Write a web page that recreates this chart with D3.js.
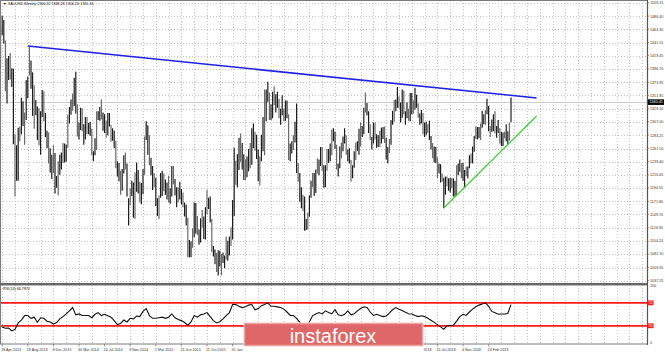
<!DOCTYPE html>
<html lang="en">
<head>
<meta charset="UTF-8">
<title>XAUUSD Weekly</title>
<script src="https://d3js.org/d3.v7.min.js"></script>
<style>
    body { margin: 0; background: #fff; }
    svg { display: block; }
    text { font-family: "Liberation Sans", Arial, sans-serif; }
</style>
</head>
<body>
<svg width="665" height="354"></svg>
<script>
// weekly bars, first bar = week of 14 Apr 2013, last = week of 2 Jun 2019
const firstWeek = "2013-04-14";
const weekHigh = [
  1480,1470,1487,1480,1445,1415,1419,1424,1398,1397,1286,1267,1297,1299,1348,1342,1323,1378,1384,1434,
  1411,1391,1369,1344,1333,1330,1325,1361,1359,1322,1292,1289,1262,1251,1267,1254,1215,1240,1251,1255,
  1271,1270,1268,1319,1332,1345,1355,1382,1392,1337,1306,1331,1330,1303,1315,1315,1305,1307,1295,1257,
  1279,1325,1325,1332,1345,1323,1320,1309,1322,1322,1302,1296,1292,1275,1240,1237,1224,1227,1250,1255,
  1236,1177,1194,1207,1204,1221,1238,1225,1205,1203,1227,1282,1308,1301,1284,1246,1232,1220,1212,1177,
  1182,1220,1224,1219,1209,1204,1215,1194,1232,1232,1210,1196,1196,1205,1193,1187,1170,1166,1144,1106,
  1104,1126,1170,1169,1147,1124,1143,1157,1146,1162,1191,1178,1180,1142,1096,1090,1084,1089,1088,1083,
  1085,1080,1112,1105,1112,1128,1174,1263,1241,1252,1280,1287,1271,1252,1243,1248,1261,1271,1296,1304,
  1290,1285,1260,1248,1285,1315,1362,1362,1375,1357,1337,1358,1367,1354,1358,1346,1329,1352,1329,1343,
  1343,1320,1270,1274,1284,1307,1338,1237,1220,1196,1183,1180,1142,1153,1182,1207,1220,1220,1226,1245,
  1243,1264,1264,1233,1233,1261,1261,1270,1294,1296,1290,1268,1236,1265,1272,1282,1296,1284,1260,1262,
  1242,1233,1257,1272,1274,1295,1306,1300,1331,1357,1339,1325,1303,1281,1306,1306,1286,1284,1292,1297,
  1298,1299,1280,1264,1278,1310,1326,1344,1345,1366,1350,1340,1362,1360,1325,1340,1329,1356,1356,1343,
  1365,1353,1338,1321,1327,1322,1306,1307,1303,1309,1283,1271,1265,1264,1247,1236,1235,1219,1212,1214,
  1214,1211,1212,1211,1211,1207,1233,1236,1243,1237,1237,1225,1231,1231,1250,1253,1265,1283,1299,1298,
  1298,1304,1326,1320,1327,1346,1334,1300,1311,1320,1325,1300,1310,1296,1290,1289,1290,1303,1291,1306,
  1348.26
];
const weekLow = [
  1321,1400,1454,1440,1359,1338,1378,1379,1366,1269,1180,1207,1207,1274,1286,1300,1268,1310,1347,1386,
  1363,1317,1295,1318,1276,1267,1251,1315,1308,1281,1262,1236,1221,1210,1220,1185,1195,1182,1217,1226,
  1237,1238,1239,1263,1304,1319,1326,1334,1321,1282,1277,1293,1291,1268,1277,1286,1286,1283,1250,1240,
  1250,1259,1310,1309,1311,1292,1288,1280,1284,1299,1273,1275,1262,1228,1214,1206,1183,1190,1219,1226,
  1180,1131,1165,1181,1144,1142,1188,1185,1170,1167,1184,1217,1276,1251,1233,1216,1191,1196,1164,1147,
  1142,1178,1181,1189,1183,1175,1170,1168,1180,1201,1182,1162,1170,1175,1167,1162,1146,1131,1077,1077,
  1077,1093,1111,1117,1115,1098,1102,1127,1108,1107,1150,1159,1136,1086,1078,1065,1052,1046,1061,1046,
  1067,1058,1073,1071,1080,1096,1107,1147,1200,1196,1225,1239,1226,1208,1208,1213,1223,1228,1234,1262,
  1258,1244,1206,1199,1240,1257,1250,1308,1341,1310,1310,1313,1335,1323,1331,1313,1302,1318,1308,1309,
  1313,1242,1240,1253,1259,1272,1220,1205,1171,1160,1155,1122,1123,1124,1146,1178,1196,1181,1186,1219,
  1216,1232,1224,1195,1196,1224,1237,1240,1250,1274,1261,1226,1214,1228,1245,1257,1270,1251,1240,1236,
  1205,1211,1229,1242,1258,1251,1265,1281,1286,1323,1318,1288,1276,1260,1270,1277,1263,1264,1264,1270,
  1278,1271,1243,1236,1254,1268,1302,1307,1325,1331,1330,1306,1314,1320,1302,1313,1309,1308,1320,1321,
  1328,1331,1314,1302,1304,1286,1281,1285,1288,1276,1260,1245,1238,1237,1211,1219,1204,1205,1160,1183,
  1197,1190,1187,1194,1180,1180,1182,1216,1222,1211,1207,1196,1215,1211,1228,1236,1236,1256,1278,1277,
  1279,1276,1297,1303,1302,1320,1291,1281,1290,1291,1287,1280,1288,1270,1266,1266,1279,1274,1269,1275,
  1306.20
];

// RSI(14), read every second week starting with the week of 28 Apr 2013
const rsiValues = [
  28,25.6,26,21,24,35,40,47.8,47.8,43,45,36,44,43,38,36.7,33,35.6,42,46,
  50.6,56,61.7,49,50.6,47.8,47.8,48,44,50,53,47.8,50,47.5,45,39,32,34,40,36.7,
  43,42,47,46,55,60,47.8,43,43,44,45,43,45,50.6,44,41,39,35.6,31,36.7,
  47.8,45,49,50.6,53,46,39,35,37,42,47.8,53,67,67,64,61.7,63,66,67,58,
  60,65,67,70,64,64,63,62,59,54,48,47.8,43,36,30,29,36.7,47.8,50.6,53,
  50.6,56,53,51,58,49,47.5,50,56,49,51,56,60,63,62,54,48,50,48,46,
  47,52,58,61.7,59,56.5,53.5,51,50.6,48,46,47.5,46,43,39.5,36,32,28,24,30,
  30.5,31,38,46,50,48,54,59,63,66,68,70,64,55,52.5,50,50.6,50.6,51.5,66.8
];
const rsiLevels = [70, 30];

const priceTicks = [1509.15, 1486.40, 1464.30, 1441.55, 1419.45, 1396.70, 1373.95, 1351.85, 1329.10,
  1307.00, 1284.25, 1261.50, 1239.40, 1216.65, 1194.55, 1171.80, 1149.70, 1126.95, 1104.20, 1082.10,
  1059.35, 1037.25];
const dateTicks = ["28 Apr 2013", "18 Aug 2013", "8 Dec 2013", "30 Mar 2014", "20 Jul 2014", "9 Nov 2014",
  "1 Mar 2015", "21 Jun 2015", "11 Oct 2015", "31 Jan 2016", "22 May 2016", "11 Sep 2016", "1 Jan 2017",
  "23 Apr 2017", "13 Aug 2017", "3 Dec 2017", "25 Mar 2018", "15 Jul 2018", "4 Nov 2018", "24 Feb 2019"];

const bidPrice = 1340.45;
const titleText = "\u25BC XAUUSD,Weekly  1306.32 1348.26 1306.20 1340.45";
const rsiTitle = "RSI(14) 66.7872";

// trend lines drawn on the chart: [date, price]
const blueLine = [["2013-08-18", 1435.8], ["2019-09-22", 1347.5]];
const greenLine = [["2018-08-12", 1160.6], ["2019-09-22", 1316.9]];

// ---------- layout ----------
const svg = d3.select("svg");
const plotRight = 647;
const mainBottom = 283.5;
const rsiTop = 285, rsiBottom = 344;

const parseDay = d3.timeParse("%Y-%m-%d");
const parseLabel = d3.timeParse("%e %b %Y");
const origin = parseDay("2013-04-28");
const weekIndex = d => Math.round((d - origin) / (7 * 864e5));

const x = d3.scaleLinear().domain([-1.375, 403]).range([0, plotRight]);
const y = d3.scaleLinear().domain([1032.3, 1511.4]).range([mainBottom, 1.5]);
const yr = d3.scaleLinear().domain([0, 100]).range([343, 285.6]);

const startIdx = weekIndex(parseDay(firstWeek));
const bars = weekHigh.map((h, i) => ({ w: startIdx + i, h: h, l: weekLow[i] }));

svg.append("clipPath").attr("id", "mainClip")
  .append("rect").attr("x", 0).attr("y", 0).attr("width", plotRight).attr("height", mainBottom);
svg.append("clipPath").attr("id", "rsiClip")
  .append("rect").attr("x", 0).attr("y", rsiTop).attr("width", plotRight).attr("height", rsiBottom - rsiTop);

// grid
const gridColor = "#c4c4c4";
const vGrid = d3.range(0, 404, 8);
svg.append("g").selectAll("line").data(vGrid).join("line")
  .attr("x1", d => Math.round(x(d)) + 0.5).attr("x2", d => Math.round(x(d)) + 0.5)
  .attr("y1", 0).attr("y2", rsiBottom)
  .attr("stroke", gridColor).attr("stroke-dasharray", "1,2");
svg.append("g").selectAll("line").data(priceTicks).join("line")
  .attr("x1", 0).attr("x2", plotRight)
  .attr("y1", d => Math.round(y(d)) + 0.5).attr("y2", d => Math.round(y(d)) + 0.5)
  .attr("stroke", gridColor).attr("stroke-dasharray", "1,2");

// bid line
svg.append("line").attr("x1", 0).attr("x2", plotRight)
  .attr("y1", Math.round(y(bidPrice)) + 0.5).attr("y2", Math.round(y(bidPrice)) + 0.5)
  .attr("stroke", "#cfcfcf").attr("stroke-width", 1);

// price bars
svg.append("g").attr("clip-path", "url(#mainClip)")
  .selectAll("line").data(bars).join("line")
  .attr("x1", d => x(d.w)).attr("x2", d => x(d.w))
  .attr("y1", d => y(d.h)).attr("y2", d => y(d.l))
  .attr("stroke", (d, i) => i % 3 === 1 ? "#6a6a6a" : "#1e1e1e")
  .attr("stroke-width", 1.2);

// trend lines
function trend(pts, color, width) {
  svg.append("line")
    .attr("x1", x(weekIndex(parseDay(pts[0][0])))).attr("y1", y(pts[0][1]))
    .attr("x2", x(weekIndex(parseDay(pts[1][0])))).attr("y2", y(pts[1][1]))
    .attr("stroke", color).attr("stroke-width", width);
}
trend(blueLine, "#1f1fe6", 1.6);
trend(greenLine, "#3ccf3c", 1.3);

// RSI
svg.append("g").selectAll("line").data(rsiLevels).join("line")
  .attr("x1", 0).attr("x2", plotRight)
  .attr("y1", d => yr(d)).attr("y2", d => yr(d))
  .attr("stroke", "#ff1a1a").attr("stroke-width", 1.8);

svg.append("path")
  .datum(rsiValues)
  .attr("clip-path", "url(#rsiClip)")
  .attr("fill", "none").attr("stroke", "#111").attr("stroke-width", 1.1)
  .attr("d", d3.line().x((d, i) => x(i * 2)).y(d => yr(d)));

// frames
svg.append("rect").attr("x", 0.5).attr("y", 0.5).attr("width", plotRight).attr("height", mainBottom - 0.5)
  .attr("fill", "none").attr("stroke", "#7a7a7a");
svg.append("rect").attr("x", 0.5).attr("y", rsiTop).attr("width", plotRight).attr("height", rsiBottom - rsiTop)
  .attr("fill", "none").attr("stroke", "#7a7a7a");
svg.append("line").attr("x1", 0).attr("x2", plotRight + 1).attr("y1", 284).attr("y2", 284)
  .attr("stroke", "#666").attr("stroke-width", 2);
svg.append("line").attr("x1", plotRight + 0.5).attr("x2", plotRight + 0.5).attr("y1", 0).attr("y2", rsiBottom + 1)
  .attr("stroke", "#555").attr("stroke-width", 1.2);

// right axis (price)
const fs = 3.7;
const axisColor = "#333";
const pAxis = svg.append("g");
pAxis.selectAll("line").data(priceTicks).join("line")
  .attr("x1", plotRight).attr("x2", plotRight + 2)
  .attr("y1", d => y(d)).attr("y2", d => y(d)).attr("stroke", "#555").attr("stroke-width", 0.6);
pAxis.selectAll("text").data(priceTicks).join("text")
  .attr("x", plotRight + 3).attr("y", d => y(d) + 1.3)
  .attr("font-size", fs).attr("fill", axisColor)
  .text(d => d.toFixed(2));

// bid tag
svg.append("rect").attr("x", plotRight + 1).attr("y", y(bidPrice) - 2.8).attr("width", 16).attr("height", 5.6)
  .attr("fill", "#000");
svg.append("text").attr("x", plotRight + 2.5).attr("y", y(bidPrice) + 1.3)
  .attr("font-size", fs).attr("fill", "#fff").text(bidPrice.toFixed(2));

// right axis (RSI)
svg.append("text").attr("x", plotRight + 3).attr("y", yr(100) + 1.6).attr("font-size", fs).attr("fill", axisColor).text("100");
svg.append("text").attr("x", plotRight + 3).attr("y", yr(0) + 0.8).attr("font-size", fs).attr("fill", axisColor).text("0");
rsiLevels.forEach(v => {
  svg.append("rect").attr("x", plotRight + 1).attr("y", yr(v) - 2.4).attr("width", 5.5).attr("height", 4.8)
    .attr("fill", "#ff1a1a");
  svg.append("text").attr("x", plotRight + 1.6).attr("y", yr(v) + 1.3).attr("font-size", 3.4)
    .attr("fill", "#fff").text(v);
});

// bottom date axis
const dAxis = svg.append("g");
const dateData = dateTicks.map(s => ({ s: s, w: weekIndex(parseLabel(s)) }));
dAxis.selectAll("line").data(dateData).join("line")
  .attr("x1", d => x(d.w)).attr("x2", d => x(d.w))
  .attr("y1", rsiBottom).attr("y2", rsiBottom + 2.5).attr("stroke", "#555").attr("stroke-width", 0.6);
dAxis.selectAll("text").data(dateData).join("text")
  .attr("x", d => x(d.w) - 1).attr("y", 350.5)
  .attr("font-size", fs).attr("fill", axisColor).text(d => d.s);

// titles
svg.append("text").attr("x", 3).attr("y", 5.2).attr("font-size", fs).attr("fill", "#111").text(titleText);
svg.append("text").attr("x", 3).attr("y", 289.5).attr("font-size", fs).attr("fill", "#111").text(rsiTitle);

// watermark logo (white backing hides the date labels below it)
const logo = svg.append("g");
logo.append("rect").attr("x", 243.5).attr("y", 322.5).attr("width", 180).attr("height", 31.5)
  .attr("fill", "#fff");
logo.append("rect").attr("x", 244.5).attr("y", 323.5).attr("width", 178).attr("height", 22)
  .attr("fill", "#e06767").attr("stroke", "#eea0a0").attr("stroke-width", 1.5);
logo.append("text").attr("x", 333).attr("y", 342.5).attr("text-anchor", "middle")
  .attr("font-family", "Roboto, sans-serif").attr("font-size", 20).attr("fill", "#fff")
  .text("instaforex");
</script>
</body>
</html>
